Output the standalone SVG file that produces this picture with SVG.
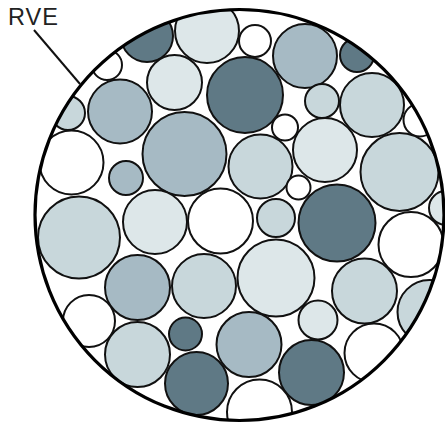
<svg xmlns="http://www.w3.org/2000/svg" width="445" height="424" viewBox="0 0 445 424">
<style>
circle{stroke:#111;stroke-width:2}
.d{fill:#5f7985}.m{fill:#a6bac4}.l{fill:#c8d7db}.v{fill:#dde7e9}.w{fill:#fff}
.rve{fill:none;stroke:#000;stroke-width:3.2}
text{font-family:"Liberation Sans",Arial,sans-serif;font-size:23.5px;letter-spacing:1px;fill:#222}
</style>
<defs><clipPath id="cp"><ellipse cx="239.5" cy="215" rx="204.5" ry="205.5"/></clipPath></defs>
<rect width="445" height="424" fill="#fff"/>
<g id="particles" clip-path="url(#cp)">
<circle class="d" cx="147" cy="36" r="26"/>
<circle class="v" cx="207" cy="31" r="32"/>
<circle class="w" cx="107" cy="65" r="15"/>
<circle class="v" cx="174.5" cy="82.5" r="27.5"/>
<circle class="d" cx="245" cy="95" r="38"/>
<circle class="m" cx="120" cy="111.5" r="32"/>
<circle class="l" cx="68" cy="113" r="17"/>
<circle class="m" cx="184.5" cy="154" r="42"/>
<circle class="w" cx="71.5" cy="162.5" r="32"/>
<circle class="m" cx="126" cy="178" r="17"/>
<circle class="l" cx="79" cy="237.5" r="41"/>
<circle class="v" cx="155" cy="222" r="32"/>
<circle class="w" cx="220.5" cy="221" r="32.5"/>
<circle class="w" cx="255" cy="41" r="16"/>
<circle class="m" cx="305" cy="56" r="32"/>
<circle class="d" cx="357" cy="55" r="17"/>
<circle class="l" cx="322" cy="101" r="17"/>
<circle class="l" cx="372" cy="105" r="32"/>
<circle class="w" cx="420" cy="120" r="16.5"/>
<circle class="w" cx="285" cy="127.5" r="13"/>
<circle class="v" cx="325" cy="150" r="32"/>
<circle class="l" cx="260.5" cy="166.5" r="32"/>
<circle class="l" cx="399.5" cy="172" r="39"/>
<circle class="w" cx="298.5" cy="187.5" r="12"/>
<circle class="d" cx="337" cy="223" r="38.5"/>
<circle class="l" cx="276" cy="218" r="19"/>
<circle class="v" cx="446" cy="208" r="17"/>
<circle class="w" cx="411" cy="244.5" r="32.5"/>
<circle class="v" cx="276" cy="278" r="38.5"/>
<circle class="l" cx="364.5" cy="291" r="32.5"/>
<circle class="l" cx="429.5" cy="312" r="32"/>
<circle class="v" cx="318" cy="320" r="19.5"/>
<circle class="m" cx="137.5" cy="287.5" r="32.5"/>
<circle class="l" cx="204" cy="286" r="32"/>
<circle class="w" cx="89" cy="321" r="26"/>
<circle class="l" cx="137.5" cy="354.5" r="32.5"/>
<circle class="d" cx="185.5" cy="334" r="16.5"/>
<circle class="d" cx="196.5" cy="383.5" r="31.5"/>
<circle class="m" cx="249" cy="344.5" r="32.5"/>
<circle class="d" cx="311.5" cy="372.5" r="32.5"/>
<circle class="w" cx="374" cy="353" r="29.5"/>
<circle class="w" cx="259.5" cy="412" r="32.5"/>
</g>
<g id="rve">
<ellipse class="rve" cx="239.5" cy="215" rx="204.5" ry="205.5"/>
</g>
<g id="connectors">
<line x1="34" y1="30" x2="80" y2="84" stroke="#111" stroke-width="2"/>
</g>
<g id="label">
<text x="8" y="25">RVE</text>
</g>
</svg>
